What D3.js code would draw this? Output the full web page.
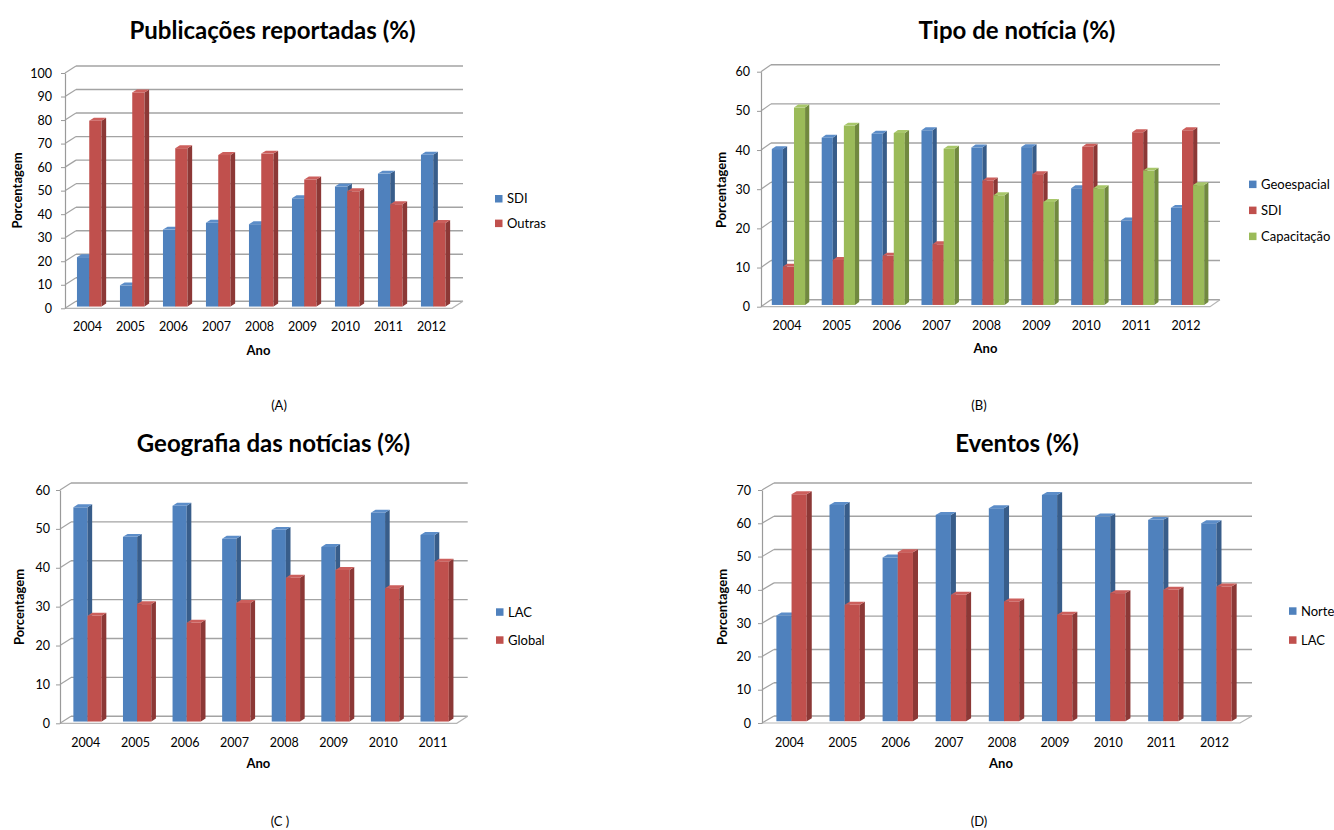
<!DOCTYPE html>
<html>
<head>
<meta charset="utf-8">
<script src="https://cdn.jsdelivr.net/npm/d3@7"></script>
<style>
  html, body { margin: 0; padding: 0; background: #fff; }
  svg { display: block; font-family: Lato, "Open Sans", sans-serif; }
</style>
</head>
<body>
<svg id="chart" width="1334" height="830"></svg>
<script>
// ---- data ----
const years9 = ["2004", "2005", "2006", "2007", "2008", "2009", "2010", "2011", "2012"];
const years8 = ["2004", "2005", "2006", "2007", "2008", "2009", "2010", "2011"];

// (A) Publicações reportadas (%)
const pubSDI    = [21, 9, 32.7, 35.6, 35, 46, 51, 56.5, 64.5];
const pubOutras = [79, 91, 67.3, 64.4, 65, 54, 49, 43.5, 35.5];

// (B) Tipo de notícia (%)
const tipoGeoespacial = [39.8, 42.7, 43.7, 44.6, 40.2, 40.3, 29.8, 21.6, 24.8];
const tipoSDI         = [9.8, 11.5, 12.6, 15.5, 31.8, 33.4, 40.4, 44.1, 44.6];
const tipoCapacitacao = [50.4, 45.8, 43.9, 39.9, 28.0, 26.3, 29.8, 34.3, 30.6];

// (C) Geografia das notícias (%)
const geoLAC    = [55.1, 47.5, 55.5, 47, 49.3, 44.9, 53.7, 48];
const geoGlobal = [27.2, 30.2, 25.4, 30.5, 37, 39, 34.3, 41.1];

// (D) Eventos (%)
const evNorte = [31.8, 65, 49.2, 62, 64, 68, 61.5, 60.5, 59.5];
const evLAC   = [68.2, 35, 50.8, 38, 36, 32, 38.5, 39.5, 40.5];

// ---- colours (front / side / top faces) ----
const palette = {
  blue:  { front: "#4F81BD", side: "#385D8A", top: "#5C8DC8" },
  red:   { front: "#C0504D", side: "#8C3836", top: "#CC5F5C" },
  green: { front: "#9BBB59", side: "#71893F", top: "#A8C76A" }
};

const panels = [
  {
    cats: years9, max: 100, step: 10,
    series: [{ name: "SDI", values: pubSDI, c: palette.blue },
             { name: "Outras", values: pubOutras, c: palette.red }],
    x0: 65, x1: 452, y0: 308.3, yTop: 73, dx: 11, dy: 7, tickPad: 9,
    xLabelY: 331, anoY: 355, yTitle: [17.5, 190.5],
    title: "Publicações reportadas (%)", titleX: 272.5, titleY: 39,
    legX: 495, legY: [198.7, 223.3],
    sub: "(A)", subX: 279, subY: 410
  },
  {
    cats: years9, max: 60, step: 10,
    series: [{ name: "Geoespacial", values: tipoGeoespacial, c: palette.blue },
             { name: "SDI", values: tipoSDI, c: palette.red },
             { name: "Capacitação", values: tipoCapacitacao, c: palette.green }],
    x0: 761, x1: 1210, y0: 306.7, yTop: 71.7, dx: 10, dy: 7, tickPad: 7,
    xLabelY: 330, anoY: 353, yTitle: [721.7, 190],
    title: "Tipo de notícia (%)", titleX: 1017, titleY: 39,
    legX: 1249, legY: [184.3, 210.3, 236.3],
    sub: "(B)", subX: 979, subY: 410
  },
  {
    cats: years8, max: 60, step: 10,
    series: [{ name: "LAC", values: geoLAC, c: palette.blue },
             { name: "Global", values: geoGlobal, c: palette.red }],
    x0: 60, x1: 456.7, y0: 723.3, yTop: 490, dx: 11, dy: 7, tickPad: 6,
    xLabelY: 747, anoY: 768, yTitle: [19, 607],
    title: "Geografia das notícias (%)", titleX: 273.5, titleY: 452,
    legX: 496, legY: [612, 640],
    sub: "(C )", subX: 280, subY: 826
  },
  {
    cats: years9, max: 70, step: 10,
    series: [{ name: "Norte", values: evNorte, c: palette.blue },
             { name: "LAC", values: evLAC, c: palette.red }],
    x0: 762, x1: 1240, y0: 723, yTop: 490, dx: 12, dy: 7, tickPad: 7,
    xLabelY: 747, anoY: 768, yTitle: [722, 607],
    title: "Eventos (%)", titleX: 1017, titleY: 452,
    legX: 1289, legY: [611, 640],
    sub: "(D)", subX: 979, subY: 826
  }
];

const svg = d3.select("#chart");
svg.append("rect").attr("width", 1334).attr("height", 830).attr("fill", "#fff");

const GRID = "#a3a3a3";
const BAR_FRONT = 0.25;   // depth position of the bar front face (fraction of wall depth)
const BAR_DEPTH = 0.42;   // bar depth (fraction of wall depth)
const FONT = "Lato, 'Open Sans', sans-serif";

function drawPanel(p) {
  const g = svg.append("g");
  const x = d3.scaleBand().domain(p.cats).range([p.x0, p.x1]).padding(0);
  const inner = d3.scaleBand()
    .domain(d3.range(p.series.length))
    .range([0, x.bandwidth()])
    .paddingInner(0).paddingOuter(0.75);
  const y = d3.scaleLinear().domain([0, p.max]).range([p.y0, p.yTop]);
  const ticks = d3.range(0, p.max + 1e-9, p.step);

  // back wall gridlines
  g.append("g").selectAll("line").data(ticks).join("line")
    .attr("x1", p.x0 + p.dx).attr("x2", p.x1 + p.dx)
    .attr("y1", d => y(d) - p.dy).attr("y2", d => y(d) - p.dy)
    .attr("stroke", GRID).attr("stroke-width", 1.4);

  // side wall gridlines
  g.append("g").selectAll("line").data(ticks).join("line")
    .attr("x1", p.x0).attr("y1", d => y(d))
    .attr("x2", p.x0 + p.dx).attr("y2", d => y(d) - p.dy)
    .attr("stroke", GRID).attr("stroke-width", 1.2);

  // floor front and right edges
  g.append("path")
    .attr("d", `M${p.x0},${p.y0}H${p.x1}L${p.x1 + p.dx},${p.y0 - p.dy}`)
    .attr("fill", "none").attr("stroke", "#b5b5b5").attr("stroke-width", 1.2);

  // y axis
  const yAxis = d3.axisLeft(y).tickValues(ticks).tickSize(4).tickSizeOuter(0).tickPadding(p.tickPad);
  const ya = g.append("g").attr("transform", `translate(${p.x0},0)`).call(yAxis);
  ya.select(".domain").attr("stroke", "#9a9a9a").attr("stroke-width", 1.2);
  ya.selectAll(".tick line").attr("stroke", "#9a9a9a");
  ya.selectAll(".tick text").attr("fill", "#000")
    .style("font-family", FONT).style("font-size", "12.5px");

  // 3D columns
  const fdx = BAR_FRONT * p.dx, fdy = BAR_FRONT * p.dy;
  const bdx = BAR_DEPTH * p.dx, bdy = BAR_DEPTH * p.dy;
  const w = inner.bandwidth();
  p.series.forEach((s, si) => {
    const sg = g.append("g");
    const rows = p.cats.map((c, i) => ({ c, v: s.values[i] }));
    const bar = sg.selectAll("g").data(rows).join("g");
    const left = d => x(d.c) + inner(si) + fdx;
    const base = p.y0 - fdy;
    const top = d => y(d.v) - fdy;
    bar.append("rect")
      .attr("x", left).attr("y", top)
      .attr("width", w).attr("height", d => base - top(d))
      .attr("fill", s.c.front);
    bar.append("path")
      .attr("d", d => {
        const xl = left(d) + w, t = top(d);
        return `M${xl},${t}L${xl + bdx},${t - bdy}L${xl + bdx},${base - bdy}L${xl},${base}Z`;
      })
      .attr("fill", s.c.side);
    bar.append("path")
      .attr("d", d => {
        const xl = left(d), t = top(d);
        return `M${xl},${t}L${xl + bdx},${t - bdy}L${xl + w + bdx},${t - bdy}L${xl + w},${t}Z`;
      })
      .attr("fill", s.c.top);
  });

  // x axis labels
  const xAxis = d3.axisBottom(x).tickSize(0).tickPadding(0);
  const xa = g.append("g").attr("transform", `translate(1,${p.xLabelY})`).call(xAxis);
  xa.select(".domain").remove();
  xa.selectAll(".tick text").attr("dy", 0).attr("y", 0).attr("fill", "#000")
    .style("font-family", FONT).style("font-size", "12.5px");

  // axis titles
  g.append("text")
    .attr("x", (p.x0 + p.x1) / 2).attr("y", p.anoY)
    .attr("text-anchor", "middle").attr("font-weight", "bold").attr("font-size", 13)
    .text("Ano");
  g.append("text")
    .attr("transform", `translate(${p.yTitle[0]},${p.yTitle[1]}) rotate(-90)`)
    .attr("text-anchor", "middle").attr("dy", "0.35em")
    .attr("font-weight", "bold").attr("font-size", 13)
    .text("Porcentagem");

  // chart title
  g.append("text")
    .attr("x", p.titleX).attr("y", p.titleY)
    .attr("text-anchor", "middle").attr("font-weight", "bold").attr("font-size", 24)
    .text(p.title);

  // legend
  const lg = g.append("g").selectAll("g").data(p.series).join("g")
    .attr("transform", (d, i) => `translate(${p.legX},${p.legY[i]})`);
  lg.append("rect").attr("x", 0).attr("y", -3.7).attr("width", 7.5).attr("height", 7.5)
    .attr("fill", d => d.c.front);
  lg.append("text").attr("x", 12).attr("y", 4.5).attr("font-size", 13).text(d => d.name);

  // panel caption
  g.append("text")
    .attr("x", p.subX).attr("y", p.subY)
    .attr("text-anchor", "middle").attr("font-size", 13)
    .text(p.sub);
}

panels.forEach(drawPanel);
</script>
</body>
</html>
